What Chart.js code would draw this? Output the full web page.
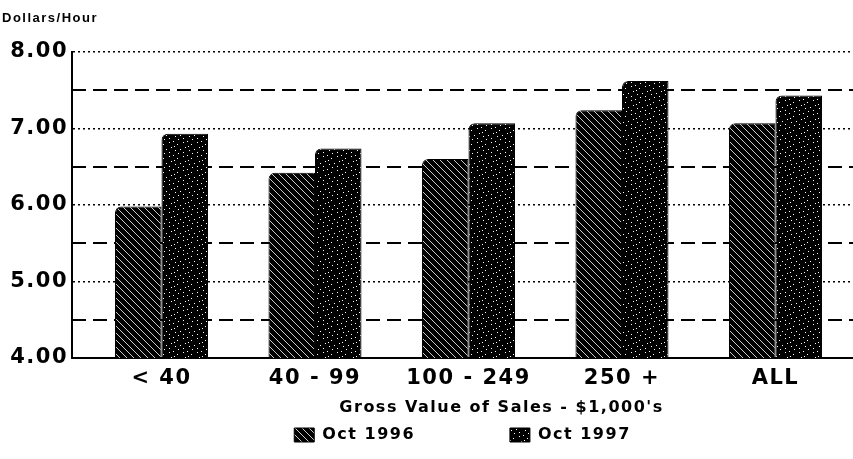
<!DOCTYPE html>
<html>
<head>
<meta charset="utf-8">
<script src="https://cdn.jsdelivr.net/npm/chart.js@4/dist/chart.umd.min.js"></script>
<style>
  html, body { margin: 0; padding: 0; background: #fff; }
  canvas { display: block; }
</style>
</head>
<body>
<canvas id="chart" width="853" height="459"></canvas>
<script>
// chart data
const categories = ['< 40', '40 - 99', '100 - 249', '250 +', 'ALL'];
const oct1996 = [5.98, 6.42, 6.60, 7.24, 7.07];
const oct1997 = [6.93, 6.74, 7.07, 7.62, 7.43];
const seriesNames = ['Oct 1996', 'Oct 1997'];
const yTicks = [4, 5, 6, 7, 8];
const yHalfTicks = [4.5, 5.5, 6.5, 7.5];
const yTitle = 'Dollars/Hour';
const xTitle = "Gross Value of Sales - $1,000's";

// fill patterns (diagonal hatch and speckle)
function hatchPattern() {
  const c = document.createElement('canvas');
  c.width = 7; c.height = 7;
  const g = c.getContext('2d');
  g.fillStyle = '#000';
  g.fillRect(0, 0, 7, 7);
  g.strokeStyle = '#fff';
  g.lineWidth = 0.8;
  g.beginPath();
  g.moveTo(-1, -1); g.lineTo(8, 8);
  g.moveTo(-1, 6); g.lineTo(1, 8);
  g.moveTo(6, -1); g.lineTo(8, 1);
  g.stroke();
  return g.createPattern(c, 'repeat');
}

function speckPattern() {
  const c = document.createElement('canvas');
  c.width = 14; c.height = 14;
  const g = c.getContext('2d');
  g.fillStyle = '#000';
  g.fillRect(0, 0, 14, 14);
  g.fillStyle = '#fff';
  const dots = [[1, 2], [5, 1], [9, 4], [12, 9], [3, 7], [7, 10], [10, 13], [1, 12], [6, 6]];
  dots.forEach(d => g.fillRect(d[0], d[1], 1, 1));
  return g.createPattern(c, 'repeat');
}

const fills = [hatchPattern(), speckPattern()];
const pad = '\u00a0'.repeat(12);

const spacing = {
  id: 'spacing',
  beforeUpdate(chart) { chart.ctx.letterSpacing = '1.5px'; },
  beforeDraw(chart) { chart.ctx.letterSpacing = '1.5px'; }
};

const axisTitle = {
  id: 'axisTitle',
  afterDraw(chart) {
    const ctx = chart.ctx;
    const a = chart.chartArea;
    ctx.save();
    ctx.font = 'bold 16px "DejaVu Sans"';
    ctx.fillStyle = '#000';
    ctx.textAlign = 'center';
    ctx.textBaseline = 'middle';
    ctx.fillText(xTitle, a.left + a.width * 0.55, a.bottom + 50);
    ctx.restore();
  }
};

const datasets = [oct1996, oct1997].map((vals, i) => ({
  label: seriesNames[i],
  data: vals.map((v, j) => ({ x: j, y: v })),
  backgroundColor: fills[i],
  borderColor: '#000',
  borderWidth: 1,
  borderSkipped: false,
  borderRadius: { topLeft: 6, bottomRight: 5 },
  categoryPercentage: 0.606,
  barPercentage: 1
}));

const ctx = document.getElementById('chart').getContext('2d');
new Chart(ctx, {
  type: 'bar',
  data: { datasets },
  plugins: [spacing, axisTitle],
  options: {
    responsive: false,
    animation: false,
    devicePixelRatio: 1,
    layout: { padding: { left: 2, right: 0, top: 0, bottom: 6 } },
    scales: {
      x: {
        type: 'linear',
        offset: false,
        min: -0.583,
        max: 4.505,
        afterBuildTicks: s => { s.ticks = categories.map((c, i) => ({ value: i })); },
        afterFit: s => { s.height = 59; },
        grid: { display: false, drawTicks: false },
        border: { display: true, color: '#000', width: 2 },
        ticks: {
          padding: 8,
          color: '#000',
          font: { family: 'DejaVu Sans', weight: 'bold', size: 21 },
          callback: v => categories[v],
          maxRotation: 0,
          autoSkip: false
        }
      },
      y: {
        min: 4,
        max: 8,
        afterBuildTicks: s => { s.ticks = yTicks.map(v => ({ value: v })); },
        afterFit: s => { s.width = 70; },
        grid: { color: '#000', lineWidth: 1.5, drawTicks: false },
        border: { display: true, color: '#000', width: 2, dash: [2, 3] },
        ticks: {
          padding: 4,
          color: '#000',
          font: { family: 'DejaVu Sans', weight: 'bold', size: 21 },
          callback: v => v.toFixed(2)
        }
      },
      y2: {
        position: 'right',
        min: 4,
        max: 8,
        afterBuildTicks: s => { s.ticks = yHalfTicks.map(v => ({ value: v })); },
        afterFit: s => { s.width = 0; },
        grid: { color: '#000', lineWidth: 2, drawTicks: false },
        border: { display: false, dash: [14, 7] },
        ticks: { display: false }
      }
    },
    plugins: {
      tooltip: { enabled: false },
      title: {
        display: true,
        text: yTitle,
        align: 'start',
        color: '#000',
        font: { family: 'Liberation Sans', weight: 'bold', size: 13, lineHeight: 1.2 },
        padding: { top: 11, bottom: 25.4 }
      },
      legend: {
        position: 'bottom',
        fullSize: false,
        labels: {
          color: '#000',
          boxWidth: 20,
          boxHeight: 14,
          padding: 10,
          font: { family: 'DejaVu Sans', weight: 'bold', size: 16 },
          generateLabels: chart => chart.data.datasets.map((d, i) => ({
            text: i === 0 ? d.label + pad : d.label,
            fillStyle: d.backgroundColor,
            strokeStyle: '#000',
            lineWidth: 1,
            datasetIndex: i
          }))
        }
      }
    }
  }
});
</script>
</body>
</html>
